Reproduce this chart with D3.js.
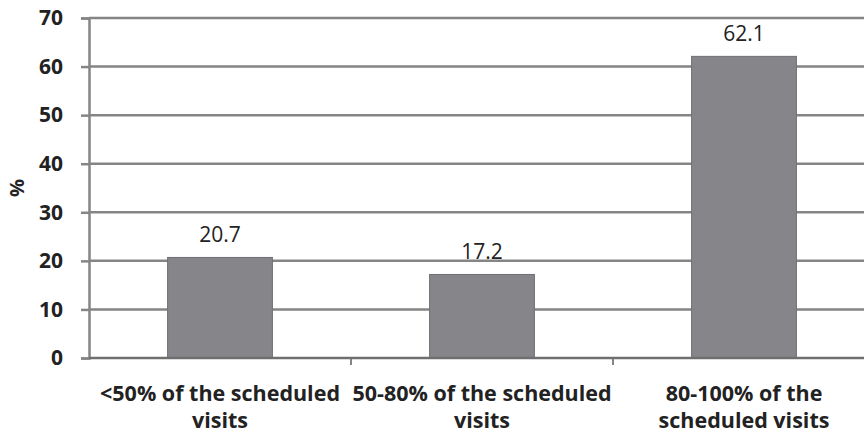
<!DOCTYPE html>
<html>
<head>
<meta charset="utf-8">
<script src="https://cdn.jsdelivr.net/npm/d3@7"></script>
<style>
  body { margin: 0; background: #fff; }
  svg { display: block; }
</style>
</head>
<body>
<svg id="chart" width="864" height="433"></svg>
<script>
"use strict";

const categories = [
  ["<50% of the scheduled", "visits"],
  ["50-80% of the scheduled", "visits"],
  ["80-100% of the", "scheduled visits"]
];
const values = [20.7, 17.2, 62.1];
const yTicks = [0, 10, 20, 30, 40, 50, 60, 70];

const W = 864, H = 433;
const m = {top: 18, right: -11, bottom: 75, left: 89};
const svg = d3.select("#chart");
const font = "'Open Sans', 'Liberation Sans', sans-serif";

const x = d3.scaleBand()
  .domain(d3.range(categories.length))
  .range([m.left, W - m.right])
  .paddingInner(0.6).paddingOuter(0.3);

const y = d3.scaleLinear().domain([0, 70]).range([H - m.bottom, m.top]);

// gridlines
svg.append("g")
  .selectAll("line").data(yTicks.filter(d => d > 0)).join("line")
  .attr("x1", m.left).attr("x2", W)
  .attr("y1", d => y(d)).attr("y2", d => y(d))
  .attr("stroke", "#858585").attr("stroke-width", 2.5);

// bars
svg.append("g")
  .selectAll("rect").data(values).join("rect")
  .attr("x", (d, i) => x(i))
  .attr("width", x.bandwidth())
  .attr("y", d => y(d))
  .attr("height", d => y(0) - y(d))
  .attr("fill", "#86868a")
  .attr("stroke", "#6f6f73").attr("stroke-width", 1);

// value labels
svg.append("g")
  .selectAll("text").data(values).join("text")
  .attr("x", (d, i) => x(i) + x.bandwidth() / 2)
  .attr("y", d => y(d) - 15)
  .attr("text-anchor", "middle")
  .attr("font-family", font).attr("font-size", 21)
  .attr("fill", "#222")
  .text(d => d.toFixed(1));

// y axis
const yAxis = svg.append("g")
  .attr("transform", `translate(${m.left},0)`)
  .call(d3.axisLeft(y).tickValues(yTicks).tickSize(8).tickPadding(18));
yAxis.select(".domain").attr("stroke", "#858585").attr("stroke-width", 2.5);
yAxis.selectAll(".tick line").attr("stroke", "#858585").attr("stroke-width", 2.5);
yAxis.selectAll(".tick text")
  .attr("font-family", font).attr("font-size", 21).attr("font-weight", "bold")
  .attr("fill", "#222");

// x axis baseline and band ticks
const step = (W - m.right - m.left) / categories.length;
svg.append("g")
  .selectAll("line").data(d3.range(1, categories.length + 1)).join("line")
  .attr("x1", i => m.left + i * step).attr("x2", i => m.left + i * step)
  .attr("y1", y(0)).attr("y2", y(0) + 7)
  .attr("stroke", "#858585").attr("stroke-width", 2);
svg.append("line")
  .attr("x1", m.left).attr("x2", W)
  .attr("y1", y(0)).attr("y2", y(0))
  .attr("stroke", "#6f6f6f").attr("stroke-width", 2.5);

// category labels
const cat = svg.append("g")
  .selectAll("text").data(categories).join("text")
  .attr("text-anchor", "middle")
  .attr("font-family", font).attr("font-size", 21.5).attr("font-weight", "bold")
  .attr("fill", "#222");
cat.selectAll("tspan").data((d, i) => d.map(t => ({t, i}))).join("tspan")
  .attr("x", d => x(d.i) + x.bandwidth() / 2)
  .attr("y", (d, j) => 401 + j * 27)
  .text(d => d.t);

// y title
svg.append("text")
  .attr("transform", "translate(24,188) rotate(-90)")
  .attr("text-anchor", "middle")
  .attr("font-family", font).attr("font-size", 20).attr("font-weight", "bold")
  .attr("fill", "#222")
  .text("%");
</script>
</body>
</html>
